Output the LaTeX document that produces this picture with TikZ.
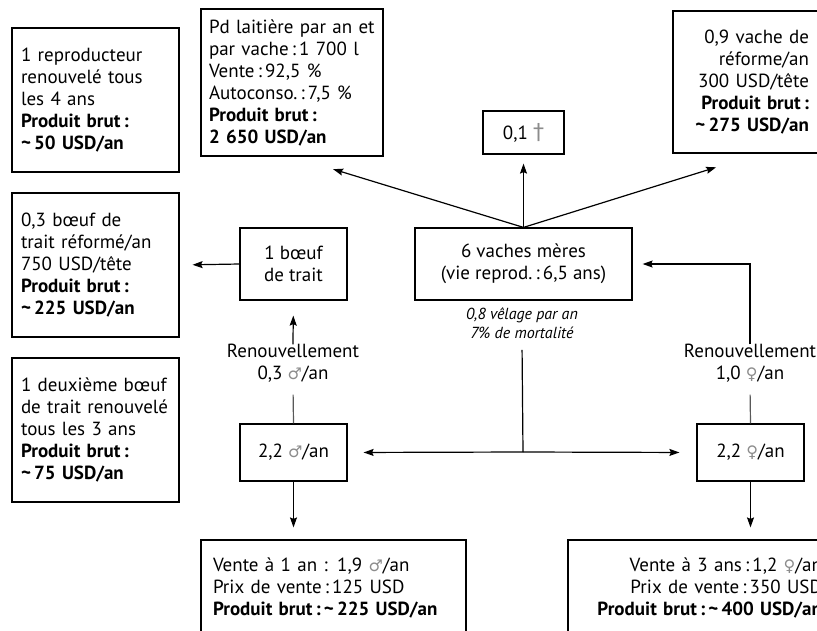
\documentclass[tikz,border=0pt]{standalone}
\usepackage{fontspec}
\setmainfont{PT Sans}
\newfontfamily\symfont{DejaVu Sans}
\usetikzlibrary{arrows.meta}
\definecolor{symgray}{gray}{0.55}
\definecolor{linegray}{gray}{0.35}
% sex and death symbols, set in grey
\newcommand{\msym}{{\color{symgray}\symfont\fontsize{16}{16}\selectfont ♂}}
\newcommand{\fsym}{{\color{symgray}\symfont\fontsize{16}{16}\selectfont ♀}}
\newcommand{\dsym}{{\color{symgray}\symfont\fontsize{22}{22}\selectfont †}}
\begin{document}
\begin{tikzpicture}[x=1pt,y=-1pt,
  txt/.style={font=\fontsize{19}{22}\selectfont},
  box/.style={txt,draw,line width=1.2pt,inner ysep=0pt},
  lbox/.style={box,align=left,inner xsep=9pt,text width=149pt,minimum height=144pt},
  cbox/.style={box,align=center},
  arr/.style={line width=1.2pt,-{Stealth[length=10pt,width=7pt,inset=1.5pt]}},
  ln/.style={line width=1.2pt},
]
\useasboundingbox (0,0) rectangle (817,630);
\clip (0,0) rectangle (817,630);

% left column: products of the breeding bull and the draught oxen
\node[lbox] (repro) at (95.5,100) {1 reproducteur\\renouvelé tous\\les 4 ans\\\textbf{Produit brut\,:}\\\textbf{\textasciitilde\,50 USD/an}};
\node[lbox] (reforme) at (95.5,265) {0,3 bœuf de\\trait réformé/an\\750 USD/tête\\\textbf{Produit brut\,:}\\\textbf{\textasciitilde\,225 USD/an}};
\node[lbox] (second) at (95.5,430) {1 deuxième bœuf\\de trait renouvelé\\tous les 3 ans\\\textbf{Produit brut\,:}\\\textbf{\textasciitilde\,75 USD/an}};

% top row: milk, deaths, culled cows
\node[box,align=left,inner xsep=8pt,text width=166pt,minimum height=147pt] (lait) at (292,82.5)
  {Pd laitière par an et\\par vache\,:\,1 700 l\\Vente\,:\,92,5 \%\\Autoconso.\,:\,7,5 \%\\\textbf{Produit brut\,:}\\\textbf{2 650 USD/an}};
\node[cbox,minimum width=81pt,minimum height=43pt] (morts) at (523.5,132.5) {0,1 \dsym};
\node[box,align=right,inner xsep=12pt,text width=124pt,minimum height=142pt] (vref) at (747,82)
  {0,9 vache de\\réforme/an\\300 USD/tête\\\textbf{Produit brut\,:}\\\textbf{\textasciitilde\,275 USD/an}};

% herd
\node[cbox,minimum width=107pt,minimum height=72pt] (boeuf) at (293.5,264) {1 bœuf\\de trait};
\node[cbox,minimum width=217pt,minimum height=72pt] (vaches) at (523.5,264) {6 vaches mères\\(vie reprod.\,:\,6,5 ans)};
\node[font=\fontsize{16}{19}\selectfont\itshape,align=center] (velage) at (522,323) {0,8 vêlage par an\\7\% de mortalité};

% replacement labels
\node[txt,align=center] (renm) at (293,363) {Renouvellement\\0,3 \msym/an};
\node[txt,align=center] (renf) at (750,363) {Renouvellement\\1,0 \fsym/an};

% young animals
\node[cbox,minimum width=107pt,minimum height=57pt] (jm) at (293.5,452.5) {2,2 \msym/an};
\node[cbox,minimum width=107pt,minimum height=57pt] (jf) at (750.5,452.5) {2,2 \fsym/an};
\coordinate (split) at (523,452);

% sales
\node[box,align=left,inner xsep=12pt,text width=241pt,minimum height=96pt] (vm) at (333.5,588)
  {Vente à 1 an : 1,9 \msym/an\\Prix de vente\,:\,125 USD\\\textbf{Produit brut\,:\,\textasciitilde\,225 USD/an}};
\node[box,align=right,inner xsep=4pt,text width=250pt,minimum height=96pt] (vf) at (697,588)
  {Vente à 3 ans\,:\,1,2 \fsym/an\\Prix de vente\,:\,350 USD\\\textbf{Produit brut\,:\,\textasciitilde\,400 USD/an}};

% flows from the cows
\draw[arr,shorten >=43pt] (vaches.north) -- (lait.south);
\draw[arr,shorten >=9pt] (vaches.north) -- (morts.south);
\draw[arr,shorten >=46pt] (vaches.north) -- ([xshift=13pt]vref.south);
\draw[arr,shorten >=13pt] (boeuf.west) -- (reforme.east);

% replacement flows
\draw[arr,shorten <=-4pt,shorten >=15pt] (renm.north) -- (boeuf.south);
\draw[ln,linegray,shorten <=9pt] (renm.south) -- (jm.north);
\draw[arr,shorten <=-4pt,shorten >=10pt] (renf.north) |- (vaches.east);
\draw[ln,linegray,shorten <=9pt] (renf.south) -- (jf.north);

% calves
\draw[ln,shorten <=8pt] (velage.south) -- (split);
\draw[arr,shorten >=16pt] (split) -- (jm.east);
\draw[arr,shorten >=17pt] (split) -- (jf.west);
\draw[arr,shorten >=12pt] (jm.south) -- (jm.south |- vm.north);
\draw[arr,shorten >=12pt] (jf.south) -- (jf.south |- vf.north);
\end{tikzpicture}
\end{document}
